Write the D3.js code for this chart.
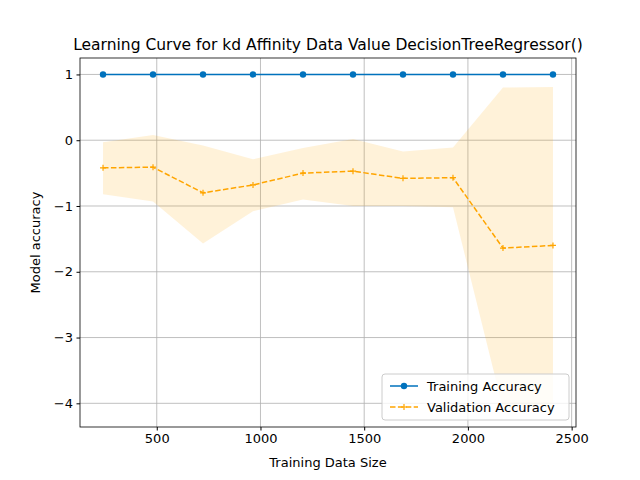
<!DOCTYPE html>
<html><head><meta charset="utf-8">
<script src="https://cdn.jsdelivr.net/npm/d3@7"></script>
<style>body{margin:0;background:#fff}svg{font-family:"DejaVu Sans",sans-serif}</style>
</head><body>
<div id="chart"></div>
<script>
// Learning curve data
const sizes = [241, 482, 723, 964, 1205, 1446, 1687, 1928, 2169, 2410];
const trainAcc = [1, 1, 1, 1, 1, 1, 1, 1, 1, 1];
const valAcc = [-0.42, -0.41, -0.80, -0.68, -0.50, -0.47, -0.58, -0.57, -1.64, -1.60];
const valUpper = [-0.03, 0.08, -0.08, -0.29, -0.12, 0.02, -0.17, -0.11, 0.80, 0.81];
const valLower = [-0.82, -0.93, -1.57, -1.08, -0.90, -1.00, -1.00, -1.02, -4.08, -4.01];
const xTicks = [500, 1000, 1500, 2000, 2500];
const yTicks = [1, 0, -1, -2, -3, -4];

const W = 640, H = 480;
const m = {left: 80, right: 64, top: 58, bottom: 53};
const svg = d3.select('#chart').append('svg').attr('width', W).attr('height', H);

const x = d3.scaleLinear().domain([130, 2521]).range([m.left, W - m.right]);
const y = d3.scaleLinear().domain([-4.36, 1.25]).range([H - m.bottom, m.top]);

const g = svg.append('g');
// grid
g.selectAll('.gx').data(xTicks).join('line')
	.attr('x1', d => x(d)).attr('x2', d => x(d)).attr('y1', m.top).attr('y2', H - m.bottom)
	.attr('stroke', '#b0b0b0').attr('stroke-width', 0.8);
g.selectAll('.gy').data(yTicks).join('line')
	.attr('y1', d => y(d)).attr('y2', d => y(d)).attr('x1', m.left).attr('x2', W - m.right)
	.attr('stroke', '#b0b0b0').attr('stroke-width', 0.8);

const idx = d3.range(sizes.length);
// band
g.append('path')
	.attr('d', d3.area().x(i => x(sizes[i])).y0(i => y(valLower[i])).y1(i => y(valUpper[i]))(idx))
	.attr('fill', 'orange').attr('fill-opacity', 0.15);

// training
g.append('path')
	.attr('d', d3.line().x(i => x(sizes[i])).y(i => y(trainAcc[i]))(idx))
	.attr('fill', 'none').attr('stroke', '#0072bd').attr('stroke-width', 1.5);
g.selectAll('.tp').data(idx).join('circle')
	.attr('cx', i => x(sizes[i])).attr('cy', i => y(trainAcc[i])).attr('r', 3.2).attr('fill', '#0072bd');

// validation
g.append('path')
	.attr('d', d3.line().x(i => x(sizes[i])).y(i => y(valAcc[i]))(idx))
	.attr('fill', 'none').attr('stroke', 'orange').attr('stroke-width', 1.5).attr('stroke-dasharray', '5.5,2.4');
const plus = (cx, cy) => `M${cx - 3},${cy}H${cx + 3}M${cx},${cy - 3}V${cy + 3}`;
g.selectAll('.vp').data(idx).join('path')
	.attr('d', i => plus(x(sizes[i]), y(valAcc[i]))).attr('stroke', 'orange').attr('stroke-width', 1.2);

// frame
svg.append('rect').attr('x', m.left).attr('y', m.top).attr('width', W - m.left - m.right)
	.attr('height', H - m.top - m.bottom).attr('fill', 'none').attr('stroke', '#000').attr('stroke-width', 0.8);

const xa = svg.append('g').attr('transform', `translate(0,${H - m.bottom})`)
	.call(d3.axisBottom(x).tickValues(xTicks).tickSize(3.5).tickPadding(3.5).tickFormat(d3.format('d')));
const ya = svg.append('g').attr('transform', `translate(${m.left},0)`)
	.call(d3.axisLeft(y).tickValues(yTicks).tickSize(3.5).tickPadding(3.5).tickFormat(d => d < 0 ? '\u2212' + Math.abs(d) : d));
[xa, ya].forEach(a => {
	a.select('.domain').remove();
	a.selectAll('text').attr('font-size', 13).attr('fill', '#000').style('font-family', '"DejaVu Sans"');
});

svg.append('text').attr('x', (m.left + W - m.right) / 2).attr('y', 467).attr('text-anchor', 'middle')
	.attr('font-size', 13).text('Training Data Size');
svg.append('text').attr('transform', `translate(40,${(m.top + H - m.bottom) / 2}) rotate(-90)`)
	.attr('text-anchor', 'middle').attr('font-size', 13).text('Model accuracy');
svg.append('text').attr('x', (m.left + W - m.right) / 2).attr('y', 50).attr('text-anchor', 'middle')
	.attr('font-size', 15.5).text('Learning Curve for kd Affinity Data Value DecisionTreeRegressor()');

// legend
const lg = svg.append('g').attr('transform', 'translate(382,374)');
lg.append('rect').attr('width', 187).attr('height', 46).attr('rx', 3).attr('fill', '#fff')
	.attr('fill-opacity', 0.8).attr('stroke', '#ccc');
lg.append('line').attr('x1', 8).attr('x2', 36).attr('y1', 12).attr('y2', 12).attr('stroke', '#0072bd').attr('stroke-width', 1.5);
lg.append('circle').attr('cx', 22).attr('cy', 12).attr('r', 3.2).attr('fill', '#0072bd');
lg.append('text').attr('x', 45).attr('y', 16.5).attr('font-size', 13).text('Training Accuracy');
lg.append('line').attr('x1', 8).attr('x2', 36).attr('y1', 33).attr('y2', 33).attr('stroke', 'orange')
	.attr('stroke-width', 1.5).attr('stroke-dasharray', '5.5,2.4');
lg.append('path').attr('d', plus(22, 33)).attr('stroke', 'orange').attr('stroke-width', 1.2);
lg.append('text').attr('x', 45).attr('y', 37.5).attr('font-size', 13).text('Validation Accuracy');
</script>
</body></html>
